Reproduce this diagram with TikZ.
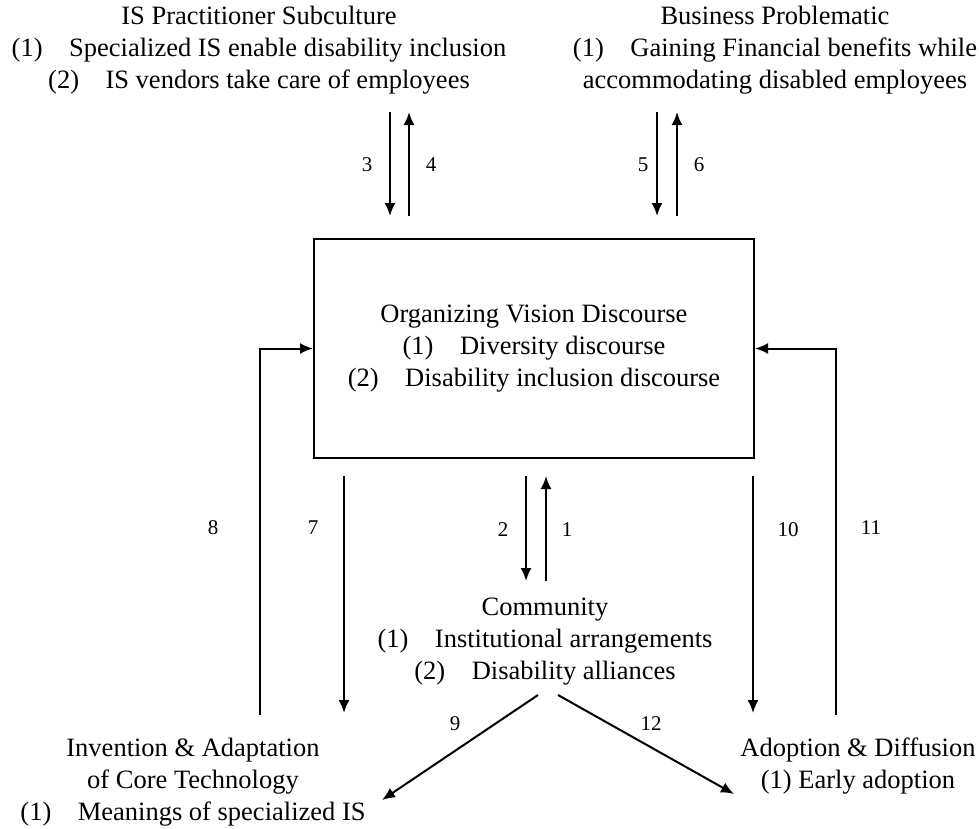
\documentclass[tikz,border=0pt]{standalone}
\usepackage{fontspec}
\setmainfont{Liberation Serif}
\usetikzlibrary{arrows.meta}

\tikzset{
  txt/.style={align=center, font=\fontsize{26.5}{32}\selectfont, inner sep=0pt},
  lbl/.style={font=\fontsize{21}{24}\selectfont, inner sep=0pt},
  arr/.style={line width=2pt, -{Latex[length=13pt,width=11pt]}},
}

\begin{document}
\begin{tikzpicture}[x=1pt,y=-1pt]
  \useasboundingbox (0,0) rectangle (979,828);

  % the five parts
  \node[txt] (isp) at (259,50) {IS Practitioner Subculture\\(1)\quad Specialized IS enable disability inclusion\\(2)\quad IS vendors take care of employees};
  \node[txt] (bp) at (775,50) {Business Problematic\\(1)\quad Gaining Financial benefits while\\accommodating disabled employees};
  \node[draw, line width=2pt, minimum width=440pt, minimum height=219pt, txt] (ovd) at (534,348.5)
    {Organizing Vision Discourse\\(1)\quad Diversity discourse\\(2)\quad Disability inclusion discourse};
  \node[txt] (com) at (545,642) {Community\\(1)\quad Institutional arrangements\\(2)\quad Disability alliances};
  \node[txt] (inv) at (193,782) {Invention \& Adaptation\\of Core Technology\\(1)\quad Meanings of specialized IS};
  \node[txt] (adp) at (858,766) {Adoption \& Diffusion\\(1) Early adoption};

  % free ends of the connectors
  \coordinate (s3) at (390,112);
  \coordinate (e3) at (390,216);
  \coordinate (s4) at (409,216);
  \coordinate (e4) at (409,112);
  \coordinate (s5) at (657,112);
  \coordinate (e5) at (657,216);
  \coordinate (s6) at (677,216);
  \coordinate (e6) at (677,112);
  \coordinate (s2) at (526,476);
  \coordinate (e2) at (526,581);
  \coordinate (s1) at (546,581);
  \coordinate (e1) at (546,476);
  \coordinate (s7) at (344,476);
  \coordinate (e7) at (344,713);
  \coordinate (s10) at (753,476);
  \coordinate (e10) at (753,713);
  \coordinate (s8) at (260,715);
  \coordinate (s11) at (836,715);
  \coordinate (s9) at (538,695);
  \coordinate (e9) at (382,800);
  \coordinate (s12) at (558,695);
  \coordinate (e12) at (734,794);

  \draw[arr] (s3) -- (e3);
  \draw[arr] (s4) -- (e4);
  \draw[arr] (s5) -- (e5);
  \draw[arr] (s6) -- (e6);
  \draw[arr] (s2) -- (e2);
  \draw[arr] (s1) -- (e1);
  \draw[arr] (s7) -- (e7);
  \draw[arr] (s10) -- (e10);
  \draw[arr] (s8) |- (ovd.west);
  \draw[arr] (s11) |- (ovd.east);
  \draw[arr] (s9) -- (e9);
  \draw[arr] (s12) -- (e12);

  % numbers
  \node[lbl] (n3) at (367,165) {3};
  \node[lbl] (n4) at (431,165) {4};
  \node[lbl] (n5) at (643,165) {5};
  \node[lbl] (n6) at (699,165) {6};
  \node[lbl] (n8) at (213,528) {8};
  \node[lbl] (n7) at (313,528) {7};
  \node[lbl] (n2) at (503,530) {2};
  \node[lbl] (n1) at (567,530) {1};
  \node[lbl] (n10) at (788,530) {10};
  \node[lbl] (n11) at (871,528) {11};
  \node[lbl] (n9) at (455,724) {9};
  \node[lbl] (n12) at (651,724) {12};
\end{tikzpicture}
\end{document}
